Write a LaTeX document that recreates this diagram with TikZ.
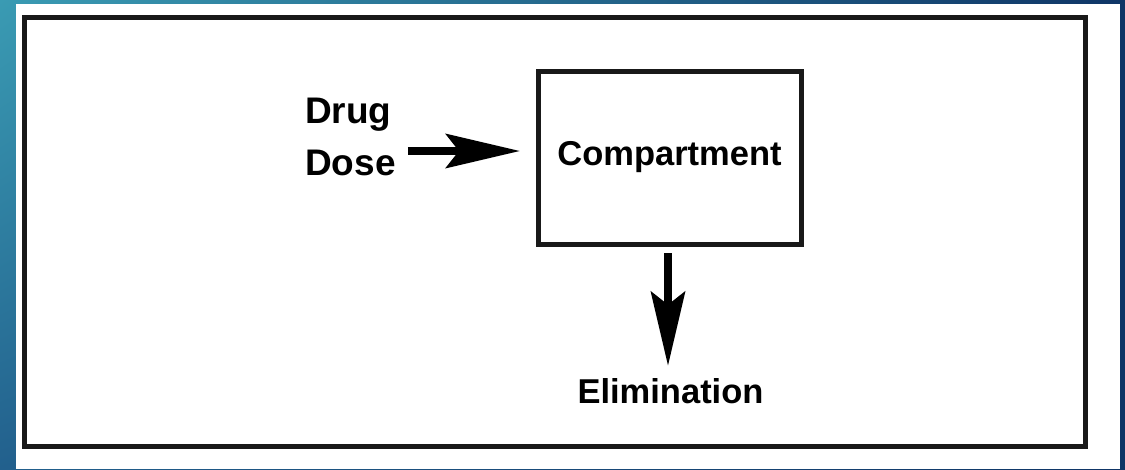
\documentclass[tikz,border=0pt]{standalone}
\usepackage{fontspec}
\setmainfont{Liberation Sans}
\usetikzlibrary{arrows.meta,shadings}
\definecolor{bgteal}{HTML}{3A9BB3}
\definecolor{bgmid}{HTML}{22608D}
\definecolor{bgnavy}{HTML}{0F3566}
\tikzset{
  frame/.style={draw=black!90, line width=5pt},
  compbox/.style={draw=black!90, line width=5pt, fill=white, minimum width=263pt, minimum height=173pt, inner sep=0pt,
    font=\bfseries\fontsize{34.5}{40}\selectfont},
  lbl/.style={inner sep=0pt, font=\bfseries\fontsize{34.5}{40}\selectfont},
  biglbl/.style={inner sep=0pt, align=left, font=\bfseries\fontsize{37}{52}\selectfont},
  flow/.style={line width=8pt, -{Stealth[length=74pt, width=34pt, inset=13pt]}}
}
\begin{document}
\begin{tikzpicture}[x=1pt, y=-1pt]
  \useasboundingbox (0,0) rectangle (1125,469);
  \shade[upper left=bgteal, lower left=bgmid, upper right=bgnavy, lower right=bgnavy] (0,0) rectangle (1125,469);
  \fill[white] (16,4) rectangle (1120,469);
  \draw[frame] (24,17) rectangle (1085,446);
  \node[compbox] (comp) at (669.5,157.5) {Compartment};
  \node[biglbl, anchor=north west] (dd) at (305,98) {Drug\\Dose};
  \node[lbl, anchor=base] (elim) at (670.5,403) {Elimination};
  \draw[flow, shorten <=12pt, shorten >=15.5pt] ([yshift=6.5pt]comp.west -| dd.east) -- ([yshift=6.5pt]comp.west);
  \draw[flow, shorten <=6.5pt, shorten >=12pt] ([xshift=-1.5pt]comp.south) -- ([xshift=-1.5pt]comp.south |- elim.north);
\end{tikzpicture}
\end{document}
